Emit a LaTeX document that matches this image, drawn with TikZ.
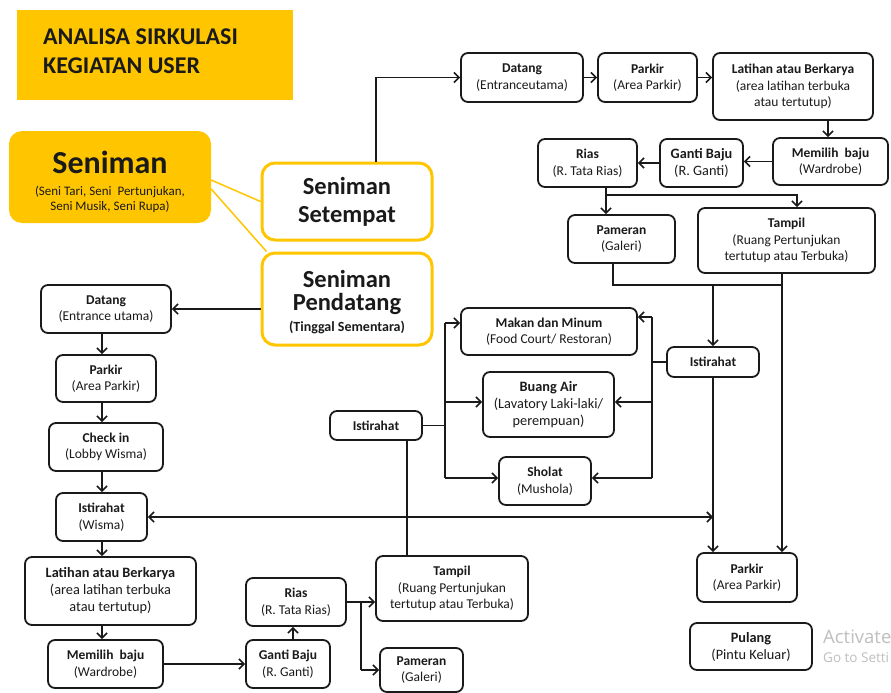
\documentclass[tikz,border=0pt]{standalone}
\usepackage{fontspec}
\setmainfont{Carlito}
\newfontfamily\wmfont{Open Sans}
\usetikzlibrary{arrows.meta,calc}
\definecolor{gold}{HTML}{FFC600}
\definecolor{ink}{HTML}{1A1A1A}

% box given by its left, top, right and bottom edges
\newcommand\flowbox[7][]{%
  \pgfmathsetmacro\bxc{(#3+#5)/2}\pgfmathsetmacro\byc{(#4+#6)/2}%
  \pgfmathsetmacro\bxw{#5-#3}\pgfmathsetmacro\bxh{#6-#4}%
  \node[bx,#1,minimum width=\bxw pt,minimum height=\bxh pt] (#2) at (\bxc,\byc) {#7};}

\begin{document}
\begin{tikzpicture}[x=1pt,y=-1pt,
  bx/.style={draw=ink,line width=1.8pt,rounded corners=7pt,fill=white,align=center,
             inner sep=1pt,text=ink,font=\fontsize{13.5}{16.5}\selectfont},
  bigtext/.style={font=\fontsize{14.3}{17}\selectfont},
  ln/.style={draw=ink,line width=1.6pt},
  arr/.style={ln,-{Straight Barb[length=5pt,width=10pt]}},
  arrtwo/.style={ln,{Straight Barb[length=5pt,width=10pt]}-{Straight Barb[length=5pt,width=10pt]}},
  goldbox/.style={draw=gold,line width=3pt,rounded corners=13pt,fill=white,align=center,
             text=ink,font=\bfseries\fontsize{24.5}{28}\selectfont},
  goldline/.style={draw=gold,line width=1.5pt}]
\useasboundingbox (0,0) rectangle (891,693);
\clip (0,0) rectangle (891,693);
\fill[white] (0,0) rectangle (891,693);

% ---- heading and user groups ----
\fill[gold] (17,10) rectangle (293,100);
\node[anchor=west,align=left,inner sep=0,text=ink,font=\bfseries\fontsize{24}{29.5}\selectfont]
  (title) at (43,51) {ANALISA SIRKULASI\\KEGIATAN USER};

\node[fill=gold,rounded corners=13pt,minimum width=202pt,minimum height=92pt] (sen) at (110,177) {};
\node[text=ink,inner sep=0,font=\bfseries\fontsize{32}{36}\selectfont] (sentitle) at (110,162) {Seniman};
\node[text=ink,inner sep=0,align=center,font=\fontsize{13}{15}\selectfont] (sensub) at (110,199)
  {(Seni Tari, Seni \ Pertunjukan,\\Seni Musik, Seni Rupa)};

\node[goldbox,minimum width=170pt,minimum height=77pt] (set) at (347,201.5) {Seniman\\Setempat};
\node[goldbox,minimum width=170pt,minimum height=92pt] (pen) at (347,299) {};
\node[text=ink,inner sep=0,font=\bfseries\fontsize{24.5}{28}\selectfont] (pen1) at (347,279) {Seniman};
\node[text=ink,inner sep=0,font=\bfseries\fontsize{24.5}{28}\selectfont] (pen2) at (347,304) {Pendatang};
\node[text=ink,inner sep=0,font=\bfseries\fontsize{14}{16}\selectfont] (pen3) at (347,327) {(Tinggal Sementara)};

\draw[goldline] ([yshift=-3pt]sen.east) -- (set.west);
\draw[goldline] ([yshift=-12pt]sen.east) -- ([xshift=6pt]pen.north west);

% ---- local artists ----
\flowbox{dat1}{461}{53}{583}{102}{\textbf{Datang}\\(Entranceutama)}
\flowbox{par1}{598}{53}{697}{102}{\textbf{Parkir}\\(Area Parkir)}
\flowbox{lat1}{713}{53}{873}{120}{\textbf{Latihan atau Berkarya}\\(area latihan terbuka\\atau tertutup)}
\flowbox{mem1}{773}{138}{888}{185}{\textbf{Memilih \ baju}\\(Wardrobe)}
\flowbox[bigtext]{gan1}{660}{139}{743}{187}{\textbf{Ganti Baju}\\(R. Ganti)}
\flowbox{ria1}{538}{139}{637}{187}{\textbf{Rias}\\(R. Tata Rias)}
\flowbox{pam1}{568}{215}{675}{263}{\textbf{Pameran}\\(Galeri)}
\flowbox{tam1}{698}{208}{875}{273}{\textbf{Tampil}\\(Ruang Pertunjukan\\tertutup atau Terbuka)}
\flowbox{ist1}{667}{347}{759}{377}{\textbf{Istirahat}}
\flowbox{par2}{697}{553}{797}{602}{\textbf{Parkir}\\(Area Parkir)}
\flowbox[bigtext]{pul}{690}{623}{812}{670}{\textbf{Pulang}\\(Pintu Keluar)}

% ---- rest facilities ----
\flowbox{mak}{461}{308}{637}{355}{\textbf{Makan dan Minum}\\(Food Court/ Restoran)}
\flowbox[bigtext]{bua}{483}{372}{614}{437}{\textbf{Buang Air}\\(Lavatory Laki-laki/\\perempuan)}
\flowbox{sho}{499}{457}{591}{505}{\textbf{Sholat}\\(Mushola)}
\flowbox{ist2}{330}{411}{422}{440}{\textbf{Istirahat}}

% ---- visiting artists ----
\flowbox{dat2}{41}{285}{171}{333}{\textbf{Datang}\\(Entrance utama)}
\flowbox{par3}{56}{355}{156}{402}{\textbf{Parkir}\\(Area Parkir)}
\flowbox{chk}{49}{423}{163}{471}{\textbf{Check in}\\(Lobby Wisma)}
\flowbox{ist3}{56}{493}{147}{541}{\textbf{Istirahat}\\(Wisma)}
\flowbox[bigtext]{lat2}{25}{557}{196}{625}{\textbf{Latihan atau Berkarya}\\(area latihan terbuka\\atau tertutup)}
\flowbox{mem2}{48}{640}{163}{688}{\textbf{Memilih \ baju}\\(Wardrobe)}
\flowbox{gan2}{246}{640}{330}{688}{\textbf{Ganti Baju}\\(R. Ganti)}
\flowbox{ria2}{246}{578}{346}{626}{\textbf{Rias}\\(R. Tata Rias)}
\flowbox{tam2}{376}{556}{528}{621}{\textbf{Tampil}\\(Ruang Pertunjukan\\tertutup atau Terbuka)}
\flowbox{pam2}{380}{648}{463}{692}{\textbf{Pameran}\\(Galeri)}

% junction points
\coordinate (j1) at (606,195);
\coordinate (j2) at (613,285);
\coordinate (j3) at (713,285);
\coordinate (j4) at (782,285);
\coordinate (r1) at (652,317);
\coordinate (r2) at (652,402);
\coordinate (r3) at (652,478);
\coordinate (q1) at (445,323);
\coordinate (q2) at (445,402);
\coordinate (q3) at (445,478);
\coordinate (cx) at (102,0);
\coordinate (bx) at (293,0);
\coordinate (sx) at (361,0);
\coordinate (tx) at (407,0);

% ---- connectors: local artists ----
\draw[arr] ([xshift=29pt]set.north) |- (dat1.west);
\draw[arr] (dat1.east) -- (par1.west);
\draw[arr] (par1.east) -- (par1.east -| lat1.west);
\draw[arr] ([xshift=35pt]lat1.south) -- ([xshift=35pt]lat1.south |- mem1.north);
\draw[arr] (mem1.west) -- (mem1.west -| gan1.east);
\draw[arr] (gan1.west) -- (gan1.west -| ria1.east);
\draw[ln] (ria1.south -| j1) -- (j1);
\draw[arr] (j1) -- (j1 |- pam1.north);
\draw[arr] (j1) -| ([xshift=10.5pt]tam1.north);
\draw[ln] (pam1.south -| j2) -- (j2) -- (j4);
\draw[arr] (tam1.south -| j4) -- (j4 |- par2.north);
\draw[arr] (j3) -- (ist1.north);
\draw[arr] (ist1.south) -- (ist1.south |- par2.north);
\draw[ln] (ist1.west) -- (ist1.west -| r1);
\draw[ln] (r1) -- (r3);
\draw[arr] (r1) -- (r1 -| mak.east);
\draw[arr] (r2) -- (r2 -| bua.east);
\draw[arr] (r3) -- (r3 -| sho.east);

% ---- connectors: rest area ----
\draw[ln] (ist2.east) -- (ist2.east -| q1);
\draw[ln] (q1) -- (q3);
\draw[arr] (q1) -- (q1 -| mak.west);
\draw[arr] (q2) -- (q2 -| bua.west);
\draw[arr] (q3) -- (q3 -| sho.west);
\draw[ln] (ist2.south -| tx) -- (tam2.north -| tx);

% ---- connectors: visiting artists ----
\draw[arr] (pen.west |- dat2.east) -- (dat2.east);
\draw[arr] (dat2.south -| cx) -- (par3.north -| cx);
\draw[arr] (par3.south -| cx) -- (chk.north -| cx);
\draw[arr] (chk.south -| cx) -- (ist3.north -| cx);
\draw[arr] (ist3.south -| cx) -- (lat2.north -| cx);
\draw[arr] (lat2.south -| cx) -- (mem2.north -| cx);
\draw[arrtwo] (ist3.east) -- (ist3.east -| j3);
\draw[arr] (mem2.east) -- (gan2.west);
\draw[arr] (gan2.north -| bx) -- (ria2.south -| bx);
\draw[ln] (ria2.east) -- (ria2.east -| sx);
\draw[arr] (ria2.east -| sx) -- (ria2.east -| tam2.west);
\draw[ln] (ria2.east -| sx) -- (pam2.west -| sx);
\draw[arr] (pam2.west -| sx) -- (pam2.west);

% ---- system notice ----
\node[anchor=west,inner sep=0,text=black!25,font=\wmfont\fontsize{18.5}{20}\selectfont] (wm1) at (823,637) {Activate};
\node[anchor=west,inner sep=0,text=black!25,font=\wmfont\fontsize{13.5}{15}\selectfont] (wm2) at (823,658) {Go to Setti};
\end{tikzpicture}
\end{document}
